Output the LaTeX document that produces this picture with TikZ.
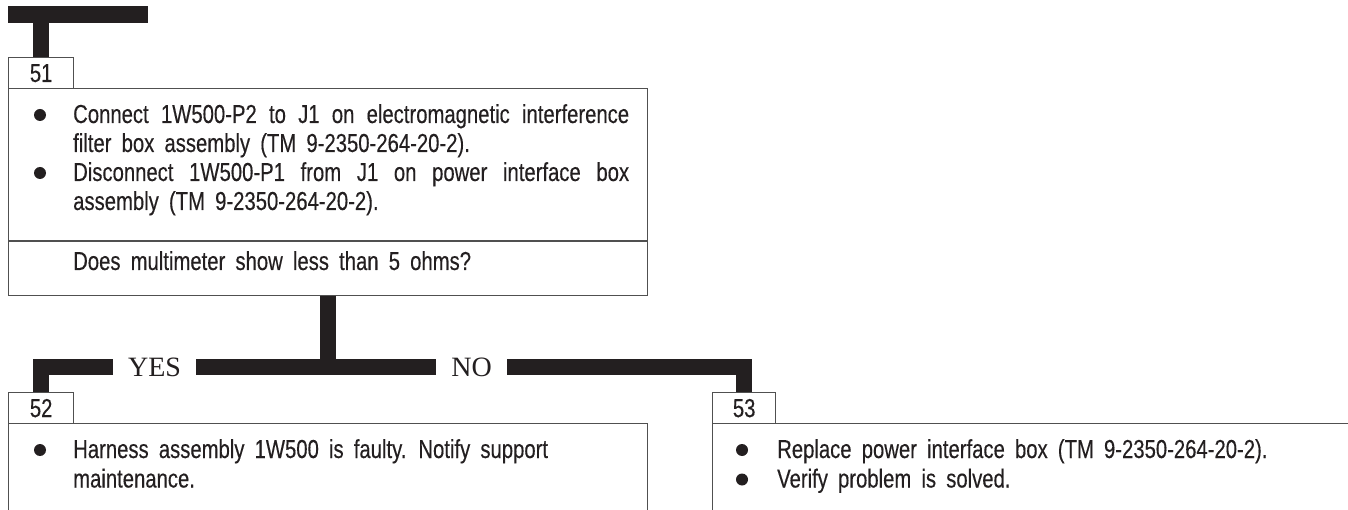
\documentclass[tikz,border=0pt]{standalone}
\usepackage{fontspec}
\setmainfont{Liberation Sans}[FakeStretch=0.78, WordSpace=1.8, FakeBold=0.3]
\newfontfamily\labelserif{Liberation Serif}
\definecolor{ink}{HTML}{231F20}
\definecolor{edge}{HTML}{505050}
\newcommand{\bodysize}{\fontsize{26}{29}\selectfont}
\begin{document}
\begin{tikzpicture}[x=1pt,y=-1pt,
  bar/.style={draw=ink, line width=15.5pt},
  framed/.style={draw=edge, line width=1.3pt},
  numtab/.style={framed, rectangle, anchor=north west, inner sep=0pt,
    minimum width=65pt, minimum height=31pt, font=\bodysize, text=ink},
  panel/.style={framed, rectangle, anchor=north west, inner sep=0pt},
  textline/.style={anchor=base west, inner sep=0pt, font=\bodysize, text=ink},
  dot/.style={circle, fill=ink, inner sep=0pt, minimum size=12pt},
  answer/.style={fill=white, inner xsep=15pt, inner ysep=3pt,
    font=\labelserif\fontsize{28}{28}\selectfont, text=ink}
]
\useasboundingbox (0,0) rectangle (1348,510);
\clip (0,0) rectangle (1348,510);

% step 51
\node[numtab] (t51) at (8,57) {51};
\node[panel, minimum width=639pt, minimum height=207pt] (b51) at (8,88) {};
\draw[framed] (b51.west |- 0,241) -- (b51.east |- 0,241);
\node[dot] (d511) at (40,115) {};
\node[textline] (l511) at (73,123) {\makebox[556pt][s]{Connect 1W500-P2 to J1 on electromagnetic interference}};
\node[textline] (l512) at (73,152) {filter box assembly (TM 9-2350-264-20-2).};
\node[dot] (d512) at (40,173) {};
\node[textline] (l513) at (73,181) {\makebox[556pt][s]{Disconnect 1W500-P1 from J1 on power interface box}};
\node[textline] (l514) at (73,210) {assembly (TM 9-2350-264-20-2).};
\node[textline] (q51) at (73,270) {Does multimeter show less than 5 ohms?};

% step 52
\node[numtab] (t52) at (8,392) {52};
\node[panel, minimum width=639pt, minimum height=140pt] (b52) at (8,423) {};
\node[dot] (d521) at (40,450) {};
\node[textline] (l521) at (73,458) {Harness assembly 1W500 is faulty. Notify support};
\node[textline] (l522) at (73,487.5) {maintenance.};

% step 53
\node[numtab, minimum width=63pt] (t53) at (712,392) {53};
\node[panel, minimum width=700pt, minimum height=140pt] (b53) at (712,423) {};
\node[dot] (d531) at (742,450) {};
\node[textline] (l531) at (777,458) {Replace power interface box (TM 9-2350-264-20-2).};
\node[dot] (d532) at (742,479.5) {};
\node[textline] (l532) at (777,487.5) {Verify problem is solved.};

% flow bars
\coordinate (topL) at (8,14.5);
\coordinate (topR) at (148,14.5);
\draw[bar, line width=17pt] (topL) -- (topR);
\draw[bar] (t51.north) -- (t51.north |- topL);
\coordinate (fork) at (328,367);
\draw[bar] (b51.south -| fork) -- (fork);
\draw[bar] (t52.north) |- (fork) -| (t53.north);
\node[answer] (yes) at (154.5,367) {YES};
\node[answer] (no) at (471.5,367) {NO};
\end{tikzpicture}
\end{document}
